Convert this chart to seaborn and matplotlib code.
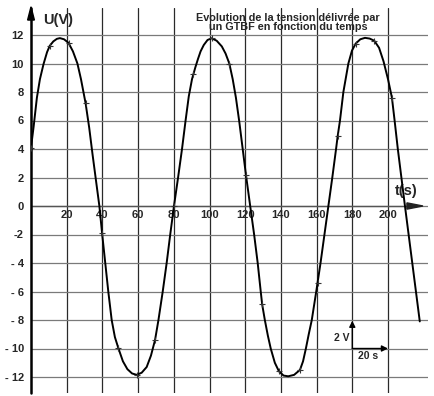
import matplotlib
matplotlib.use("Agg")
import matplotlib.pyplot as plt
from matplotlib.patches import Polygon
import seaborn as sns
import pandas as pd

# ---- data ----
curve_t = [0, 1.5, 3.3, 5.0, 7.0, 9.0, 10.5, 12.5, 14.5, 16.2, 18.5, 21.0, 23.5, 26.0, 28.0,
           30.6, 32.6, 34.5, 36.5, 38.3, 39.9, 41.6, 43.3, 45.2, 47.0, 49.0, 51.5, 54.0, 56.6,
           59.2, 62.0, 64.8, 67.2, 69.5, 71.4, 73.8, 76.0, 78.0, 80.1, 82.4, 84.6, 86.6, 88.4,
           90.2, 92.0, 93.5, 95.0, 96.8, 98.9, 101.2, 104.0, 106.9, 109.0, 111.1, 113.0, 114.8, 116.7,
           118.6, 120.4, 122.8, 125.0, 127.0, 128.7, 129.5, 131.0, 132.7, 134.3, 136.6, 138.9,
           141.5, 144.1, 147.4, 150.7, 152.4, 154.0, 155.6, 157.3, 159.8, 162.2, 164.4, 166.6,
           168.8, 170.9, 171.8, 173.1, 175.0, 177.8, 179.8, 181.9, 184.5, 187.1, 189.7, 192.3,
           195.0, 197.5, 200.0, 202.2, 203.7, 205.5, 207.5, 209.5, 217.8]
curve_u = [4.1, 5.6, 7.6, 8.9, 9.95, 10.8, 11.24, 11.55, 11.73, 11.78, 11.7, 11.45, 10.85, 10.0, 8.9,
           7.2, 5.5, 3.6, 1.7, 0.0, -2.0, -4.0, -6.0, -8.0, -9.2, -10.0, -10.9, -11.45, -11.75,
           -11.85, -11.7, -11.3, -10.5, -9.4, -8.0, -6.0, -4.0, -2.0, 0.0, 2.0, 4.0, 6.0, 7.7,
           8.9, 9.7, 10.3, 10.85, 11.3, 11.65, 11.77, 11.6, 11.2, 10.7, 10.0, 8.9, 7.6, 5.9,
           4.0, 2.2, 0.0, -2.0, -4.0, -6.0, -6.9, -8.0, -9.1, -10.0, -11.0, -11.6,
           -11.9, -11.95, -11.85, -11.5, -10.9, -10.0, -9.0, -8.0, -6.0, -4.0, -2.0, 0.0,
           2.0, 4.0, 4.9, 6.0, 8.0, 10.0, 10.9, 11.4, 11.7, 11.8, 11.75, 11.6,
           11.1, 10.15, 8.9, 7.6, 6.0, 4.0, 2.0, 0.0, -8.1]

marker_t = [0, 10.5, 21.1, 30.6, 39.8, 48.9, 59.2, 69.5, 80.1, 91.0, 101.2, 111.1, 120.4, 129.5,
            138.9, 150.7, 160.6, 171.8, 181.9, 192.3, 202.2]
marker_u = [4.1, 11.24, 11.45, 7.2, -1.9, -9.95, -11.85, -9.4, 0.0, 9.25, 11.77, 10.0, 2.2, -6.9,
            -11.6, -11.5, -5.4, 4.9, 11.4, 11.6, 7.6]

x_ticks = [20, 40, 60, 80, 100, 120, 140, 160, 180, 200]
x_tick_labels = ["20", "40", "60", "80", "100", "120", "140", "160", "180", "200"]
y_ticks = [-12, -10, -8, -6, -4, -2, 0, 2, 4, 6, 8, 10, 12]
y_tick_labels = ["- 12", "- 10", "- 8", "- 6", "- 4", "-2", "0", "2", "4", "6", "8", "10", "12"]

title_text = "Evolution de la tension délivrée par\nun GTBF en fonction du temps"
y_label = "U(V)"
x_label = "t(s)"
scale_u_label = "2 V"
scale_t_label = "20 s"

# ---- style ----
sns.set_theme(style="white")
plt.rcParams["font.family"] = ["Liberation Sans", "DejaVu Sans"]

fig = plt.figure(figsize=(4.34, 3.96), dpi=100)
ax = fig.add_axes([31 / 434, 3 / 396, 397 / 434, 385 / 396])
ax.set_xlim(0, 397 / 1.785)
ax.set_ylim((206 - 393) / 14.25, (206 - 8) / 14.25)
for s in ax.spines.values():
    s.set_visible(False)

ax.set_xticks(x_ticks)
ax.set_yticks(y_ticks)
ax.set_yticklabels(y_tick_labels, fontsize=8, fontweight="bold")
ax.tick_params(axis="y", length=0, pad=5)
ax.tick_params(axis="x", length=0, labelbottom=False)
ax.xaxis.grid(True, color="#2a2a2a", lw=0.9)
ax.yaxis.grid(True, color="#7a7a7a", lw=0.9)
ax.set_axisbelow(True)

# axes lines with arrows
ax.axvline(0, color="black", lw=1.8, clip_on=False, zorder=3)
ax.plot([0, 212], [0, 0], color="#555555", lw=1.0, zorder=2)
ax.add_patch(Polygon([[219.6, 0], [210.6, 0.22], [210.6, -0.22]], closed=True,
                     color="#222222", clip_on=False, zorder=4))
ax.add_patch(Polygon([[0, 13.98], [-1.9, 13.05], [1.9, 13.05]], closed=True,
                     color="black", clip_on=False, zorder=4))

# x tick labels on the t axis
for t, lab in zip(x_ticks, x_tick_labels):
    ax.text(t, -0.6, lab, ha="center", va="center", fontsize=8, fontweight="bold")

# curve and measured points
sns.lineplot(x=curve_t, y=curve_u, sort=False, estimator=None, color="black",
             lw=1.4, ax=ax, zorder=5)
sns.scatterplot(x=marker_t, y=marker_u, marker="+", s=22, color="#333333",
                linewidth=0.8, ax=ax, zorder=6)

# labels
ax.text(15.4, 13.05, y_label, ha="center", va="center", fontsize=10.5, fontweight="bold")
ax.text(210.4, 1.05, x_label, ha="center", va="center", fontsize=10.5, fontweight="bold")
ax.text(144, 12.87, title_text, ha="center", va="center", fontsize=7.8,
        fontweight="bold", linespacing=0.95)

# scale arrows
ax.annotate("", xy=(180, -8.05), xytext=(180, -10),
            arrowprops=dict(arrowstyle="-|>", color="black", lw=1.0, mutation_scale=9,
                            shrinkA=0, shrinkB=0))
ax.annotate("", xy=(200, -10), xytext=(180, -10),
            arrowprops=dict(arrowstyle="-|>", color="black", lw=1.0, mutation_scale=9,
                            shrinkA=0, shrinkB=0))
ax.text(178.7, -9.25, scale_u_label, ha="right", va="center", fontsize=7.5, fontweight="bold")
ax.text(189, -10.55, scale_t_label, ha="center", va="center", fontsize=7.5, fontweight="bold")

fig.savefig("out.png", dpi=100)
